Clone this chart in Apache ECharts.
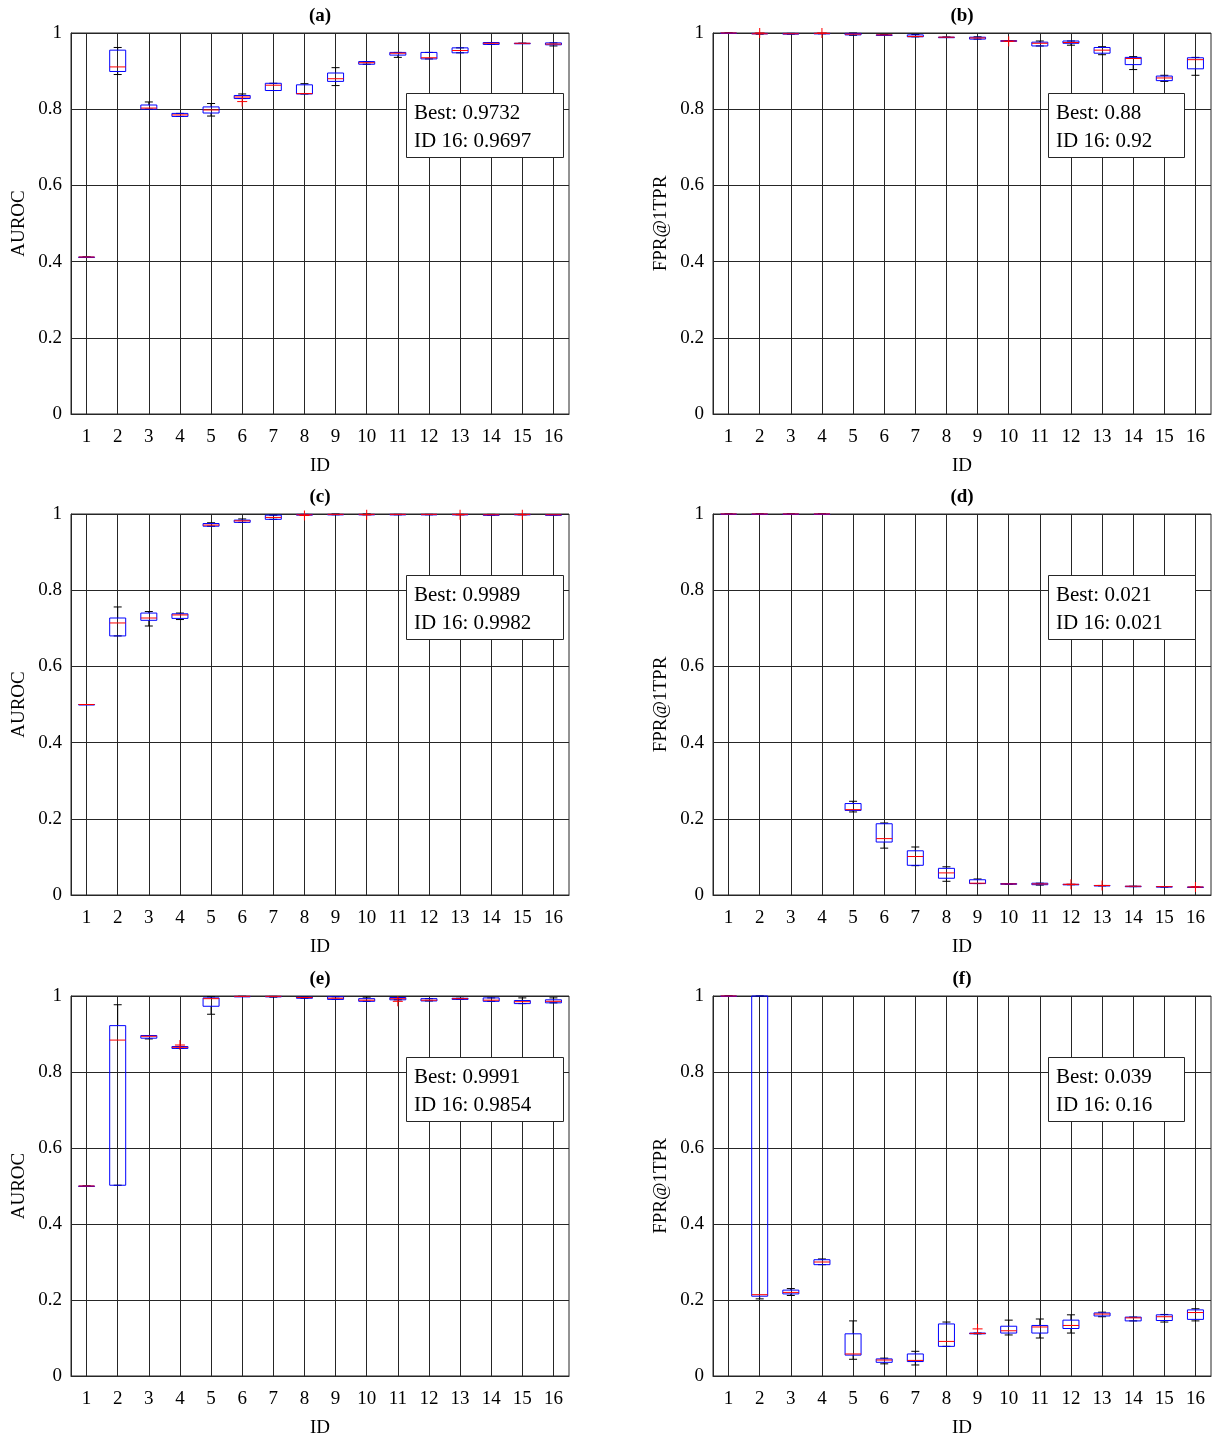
<!DOCTYPE html>
<html><head><meta charset="utf-8">
<script src="https://cdn.jsdelivr.net/npm/echarts@6/dist/echarts.min.js"></script>
<style>html,body{margin:0;padding:0;background:#fff}#c{width:1221px;height:1439px}</style>
</head><body><div id="c"></div>
<script>
// ---------- DATA ----------
const ids = ['1','2','3','4','5','6','7','8','9','10','11','12','13','14','15','16'];
const panelLabels = ['(a)','(b)','(c)','(d)','(e)','(f)'];
const yNames = ['AUROC','FPR@1TPR','AUROC','FPR@1TPR','AUROC','FPR@1TPR'];
const yTicks = [0, 0.2, 0.4, 0.6, 0.8, 1];
const bestVals = ['0.9732','0.88','0.9989','0.021','0.9991','0.039'];
const id16Vals = ['0.9697','0.92','0.9982','0.021','0.9854','0.16'];

// each box: [lower whisker, Q1, median, Q3, upper whisker], one per ID
const boxA = [
  [0.412,0.412,0.412,0.412,0.412],[0.891,0.899,0.911,0.955,0.962],[0.800,0.800,0.803,0.811,0.819],
  [0.781,0.781,0.785,0.789,0.789],[0.782,0.790,0.798,0.806,0.815],[0.828,0.828,0.832,0.836,0.840],
  [0.849,0.849,0.863,0.868,0.868],[0.840,0.840,0.841,0.864,0.867],[0.862,0.873,0.880,0.895,0.909],
  [0.918,0.918,0.922,0.925,0.925],[0.936,0.942,0.947,0.949,0.949],[0.932,0.932,0.935,0.949,0.949],
  [0.948,0.948,0.954,0.961,0.961],[0.970,0.970,0.973,0.975,0.975],[0.973,0.973,0.973,0.973,0.973],
  [0.966,0.969,0.971,0.974,0.974]
];
const outA = [[5,0.820]];

const boxB = [
  [1,1,1,1,1],[0.997,0.998,0.998,0.999,0.999],[0.997,0.997,0.998,0.999,0.999],
  [0.998,0.998,0.999,0.999,0.999],[0.994,0.995,0.997,0.999,1.0],[0.995,0.995,0.995,0.995,0.996],
  [0.990,0.990,0.991,0.995,0.996],[0.989,0.989,0.989,0.989,0.989],[0.984,0.984,0.987,0.989,0.990],
  [0.978,0.978,0.979,0.980,0.980],[0.966,0.966,0.973,0.976,0.979],[0.968,0.973,0.975,0.979,0.979],
  [0.943,0.947,0.955,0.962,0.964],[0.904,0.917,0.933,0.936,0.938],[0.873,0.875,0.882,0.887,0.889],
  [0.889,0.906,0.930,0.935,0.936]
];
const outB = [[1,1.0],[3,1.0],[9,0.978]];

const boxC = [
  [0.5,0.5,0.5,0.5,0.5],[0.680,0.680,0.714,0.727,0.756],[0.706,0.721,0.727,0.740,0.744],
  [0.723,0.726,0.735,0.738,0.740],[0.968,0.968,0.971,0.975,0.977],[0.978,0.978,0.982,0.984,0.987],
  [0.986,0.986,0.991,0.997,0.997],[0.997,0.997,0.998,0.999,0.999],[0.998,0.998,0.999,0.999,1.0],
  [0.998,0.998,0.999,0.999,1.0],[0.998,0.998,0.999,0.999,0.999],[0.998,0.998,0.999,0.999,0.999],
  [0.998,0.998,0.999,0.999,0.999],[0.997,0.997,0.998,0.998,0.999],[0.998,0.998,0.999,0.999,0.999],
  [0.998,0.998,0.998,0.998,0.998]
];
const outC = [[7,0.996],[9,0.998],[12,0.998],[14,0.998]];

const boxD = [
  [1,1,1,1,1],[1,1,1,1,1],[1,1,1,1,1],[1,1,1,1,1],
  [0.218,0.222,0.224,0.240,0.246],[0.123,0.139,0.148,0.187,0.189],[0.077,0.078,0.101,0.116,0.126],
  [0.036,0.044,0.058,0.070,0.074],[0.030,0.030,0.031,0.040,0.042],[0.028,0.028,0.029,0.030,0.030],
  [0.026,0.027,0.029,0.031,0.031],[0.027,0.027,0.028,0.028,0.028],[0.024,0.024,0.025,0.025,0.025],
  [0.022,0.022,0.023,0.023,0.023],[0.021,0.021,0.022,0.022,0.022],[0.020,0.020,0.021,0.021,0.021]
];
const outD = [[11,0.028],[12,0.025],[15,0.021]];

const boxE = [
  [0.5,0.5,0.5,0.5,0.5],[0.502,0.502,0.884,0.922,0.977],[0.887,0.889,0.894,0.896,0.896],
  [0.862,0.862,0.865,0.867,0.867],[0.952,0.973,0.993,0.995,0.998],[0.999,0.999,0.999,0.999,0.999],
  [0.997,0.998,0.999,0.999,0.999],[0.994,0.994,0.996,0.997,0.997],[0.991,0.991,0.994,0.998,0.998],
  [0.986,0.986,0.989,0.993,0.997],[0.990,0.990,0.993,0.996,0.996],[0.987,0.987,0.989,0.993,0.993],
  [0.991,0.991,0.993,0.994,0.994],[0.986,0.986,0.989,0.995,0.995],[0.980,0.980,0.985,0.988,0.995],
  [0.982,0.982,0.986,0.990,0.995]
];
const outE = [[3,0.871],[10,0.986]];

const boxF = [
  [1,1,1,1,1],[0.203,0.210,0.214,1.0,1.0],[0.212,0.216,0.220,0.226,0.230],
  [0.293,0.293,0.300,0.306,0.308],[0.044,0.055,0.058,0.111,0.145],[0.032,0.036,0.042,0.045,0.047],
  [0.029,0.038,0.041,0.058,0.065],[0.078,0.078,0.091,0.137,0.142],[0.111,0.111,0.112,0.113,0.113],
  [0.108,0.113,0.119,0.131,0.147],[0.100,0.113,0.129,0.133,0.150],[0.113,0.125,0.133,0.147,0.161],
  [0.156,0.158,0.163,0.166,0.168],[0.145,0.145,0.153,0.155,0.155],[0.142,0.146,0.156,0.161,0.162],
  [0.145,0.149,0.167,0.174,0.177]
];
const outF = [[8,0.124]];

const allBoxes = [boxA, boxB, boxC, boxD, boxE, boxF];
const allOut = [outA, outB, outC, outD, outE, outF];

// ---------- LAYOUT / STYLE ----------
const FONT = 'Liberation Serif';
const AX = '#262626';
const gridLefts = [71, 713];
const gridTops = [33, 514, 996];
const GW = 498, GH = 381;
const legendPos = [[406,93],[1048,93],[406,575],[1048,575],[406,1057],[1048,1057]];

function renderBox(params, api) {
  const i = api.value(0);
  const pts = [1,2,3,4,5].map(k => api.coord([i, api.value(k)]));
  const cx = pts[0][0];
  const lo = pts[0][1], q1 = pts[1][1], md = pts[2][1], q3 = pts[3][1], hi = pts[4][1];
  const hw = 8, cw = 4;
  const blk = {stroke: '#000', lineWidth: 1};
  return {
    type: 'group',
    children: [
      {type: 'line', shape: {x1: cx, y1: hi, x2: cx, y2: q3}, style: blk},
      {type: 'line', shape: {x1: cx, y1: q1, x2: cx, y2: lo}, style: blk},
      {type: 'line', shape: {x1: cx - cw, y1: hi, x2: cx + cw, y2: hi}, style: blk},
      {type: 'line', shape: {x1: cx - cw, y1: lo, x2: cx + cw, y2: lo}, style: blk},
      {type: 'rect', shape: {x: cx - hw, y: q3, width: 2 * hw, height: Math.max(q1 - q3, 0.5)},
       style: {fill: 'none', stroke: '#0000ff', lineWidth: 1}},
      {type: 'line', shape: {x1: cx - hw, y1: md, x2: cx + hw, y2: md}, style: {stroke: '#ff0000', lineWidth: 1}}
    ]
  };
}
function renderOut(params, api) {
  const p = api.coord([api.value(0), api.value(1)]);
  const s = 5;
  const st = {stroke: '#ff0000', lineWidth: 1};
  return {type: 'group', children: [
    {type: 'line', shape: {x1: p[0] - s, y1: p[1], x2: p[0] + s, y2: p[1]}, style: st},
    {type: 'line', shape: {x1: p[0], y1: p[1] - s, x2: p[0], y2: p[1] + s}, style: st}
  ]};
}

const grids = [], xAxes = [], yAxes = [], series = [], titles = [], graphics = [];
for (let k = 0; k < 6; k++) {
  const left = gridLefts[k % 2], top = gridTops[Math.floor(k / 2)];
  grids.push({left: left, top: top, width: GW, height: GH, show: true, borderColor: AX, borderWidth: 1, backgroundColor: 'transparent'});
  xAxes.push({
    type: 'category', gridIndex: k, data: ids, boundaryGap: true,
    axisLine: {show: true, lineStyle: {color: AX, width: 1}},
    axisTick: {show: false, alignWithLabel: true},
    splitLine: {show: true, alignWithLabel: true, lineStyle: {color: AX, width: 1}},
    axisLabel: {fontSize: 19, fontFamily: FONT, color: '#000', margin: 14, interval: 0},
    name: 'ID', nameLocation: 'middle', nameGap: 43,
    nameTextStyle: {fontSize: 19, fontFamily: FONT, color: '#000'}
  });
  yAxes.push({
    type: 'value', gridIndex: k, min: yTicks[0], max: yTicks[yTicks.length - 1], interval: 0.2,
    axisLine: {show: true, lineStyle: {color: AX, width: 1}},
    axisTick: {show: true, inside: true, length: 5, lineStyle: {color: AX}},
    splitLine: {show: true, lineStyle: {color: AX, width: 1}},
    axisLabel: {fontSize: 19, fontFamily: FONT, color: '#000', margin: 9},
    name: yNames[k], nameLocation: 'middle', nameGap: 42,
    nameTextStyle: {fontSize: 19, fontFamily: FONT, color: '#000'}
  });
  series.push({
    type: 'custom', xAxisIndex: k, yAxisIndex: k, renderItem: renderBox, z: 5,
    data: allBoxes[k].map((b, i) => [i].concat(b)), encode: {x: 0, y: [1,2,3,4,5]}
  });
  series.push({
    type: 'custom', xAxisIndex: k, yAxisIndex: k, renderItem: renderOut, z: 6,
    data: allOut[k], encode: {x: 0, y: 1}
  });
  titles.push({
    text: 'Best: ' + bestVals[k] + '\nID 16: ' + id16Vals[k],
    left: legendPos[k][0], top: legendPos[k][1],
    borderColor: AX, borderWidth: 1, backgroundColor: '#fff',
    padding: [6, 33, 3, 8],
    textStyle: {fontSize: 21, fontWeight: 'normal', fontFamily: FONT, color: '#000', lineHeight: 28}
  });
  graphics.push({
    type: 'text', x: left + GW / 2, y: top - 17,
    style: {text: panelLabels[k], fontSize: 19, fontWeight: 'bold', fontFamily: FONT, fill: '#000',
            textAlign: 'center', textVerticalAlign: 'middle'}
  });
}

const chart = echarts.init(document.getElementById('c'), null, {renderer: 'canvas'});
chart.setOption({
  animation: false,
  backgroundColor: '#fff',
  title: titles,
  grid: grids,
  xAxis: xAxes,
  yAxis: yAxes,
  series: series,
  graphic: graphics
});
</script></body></html>
